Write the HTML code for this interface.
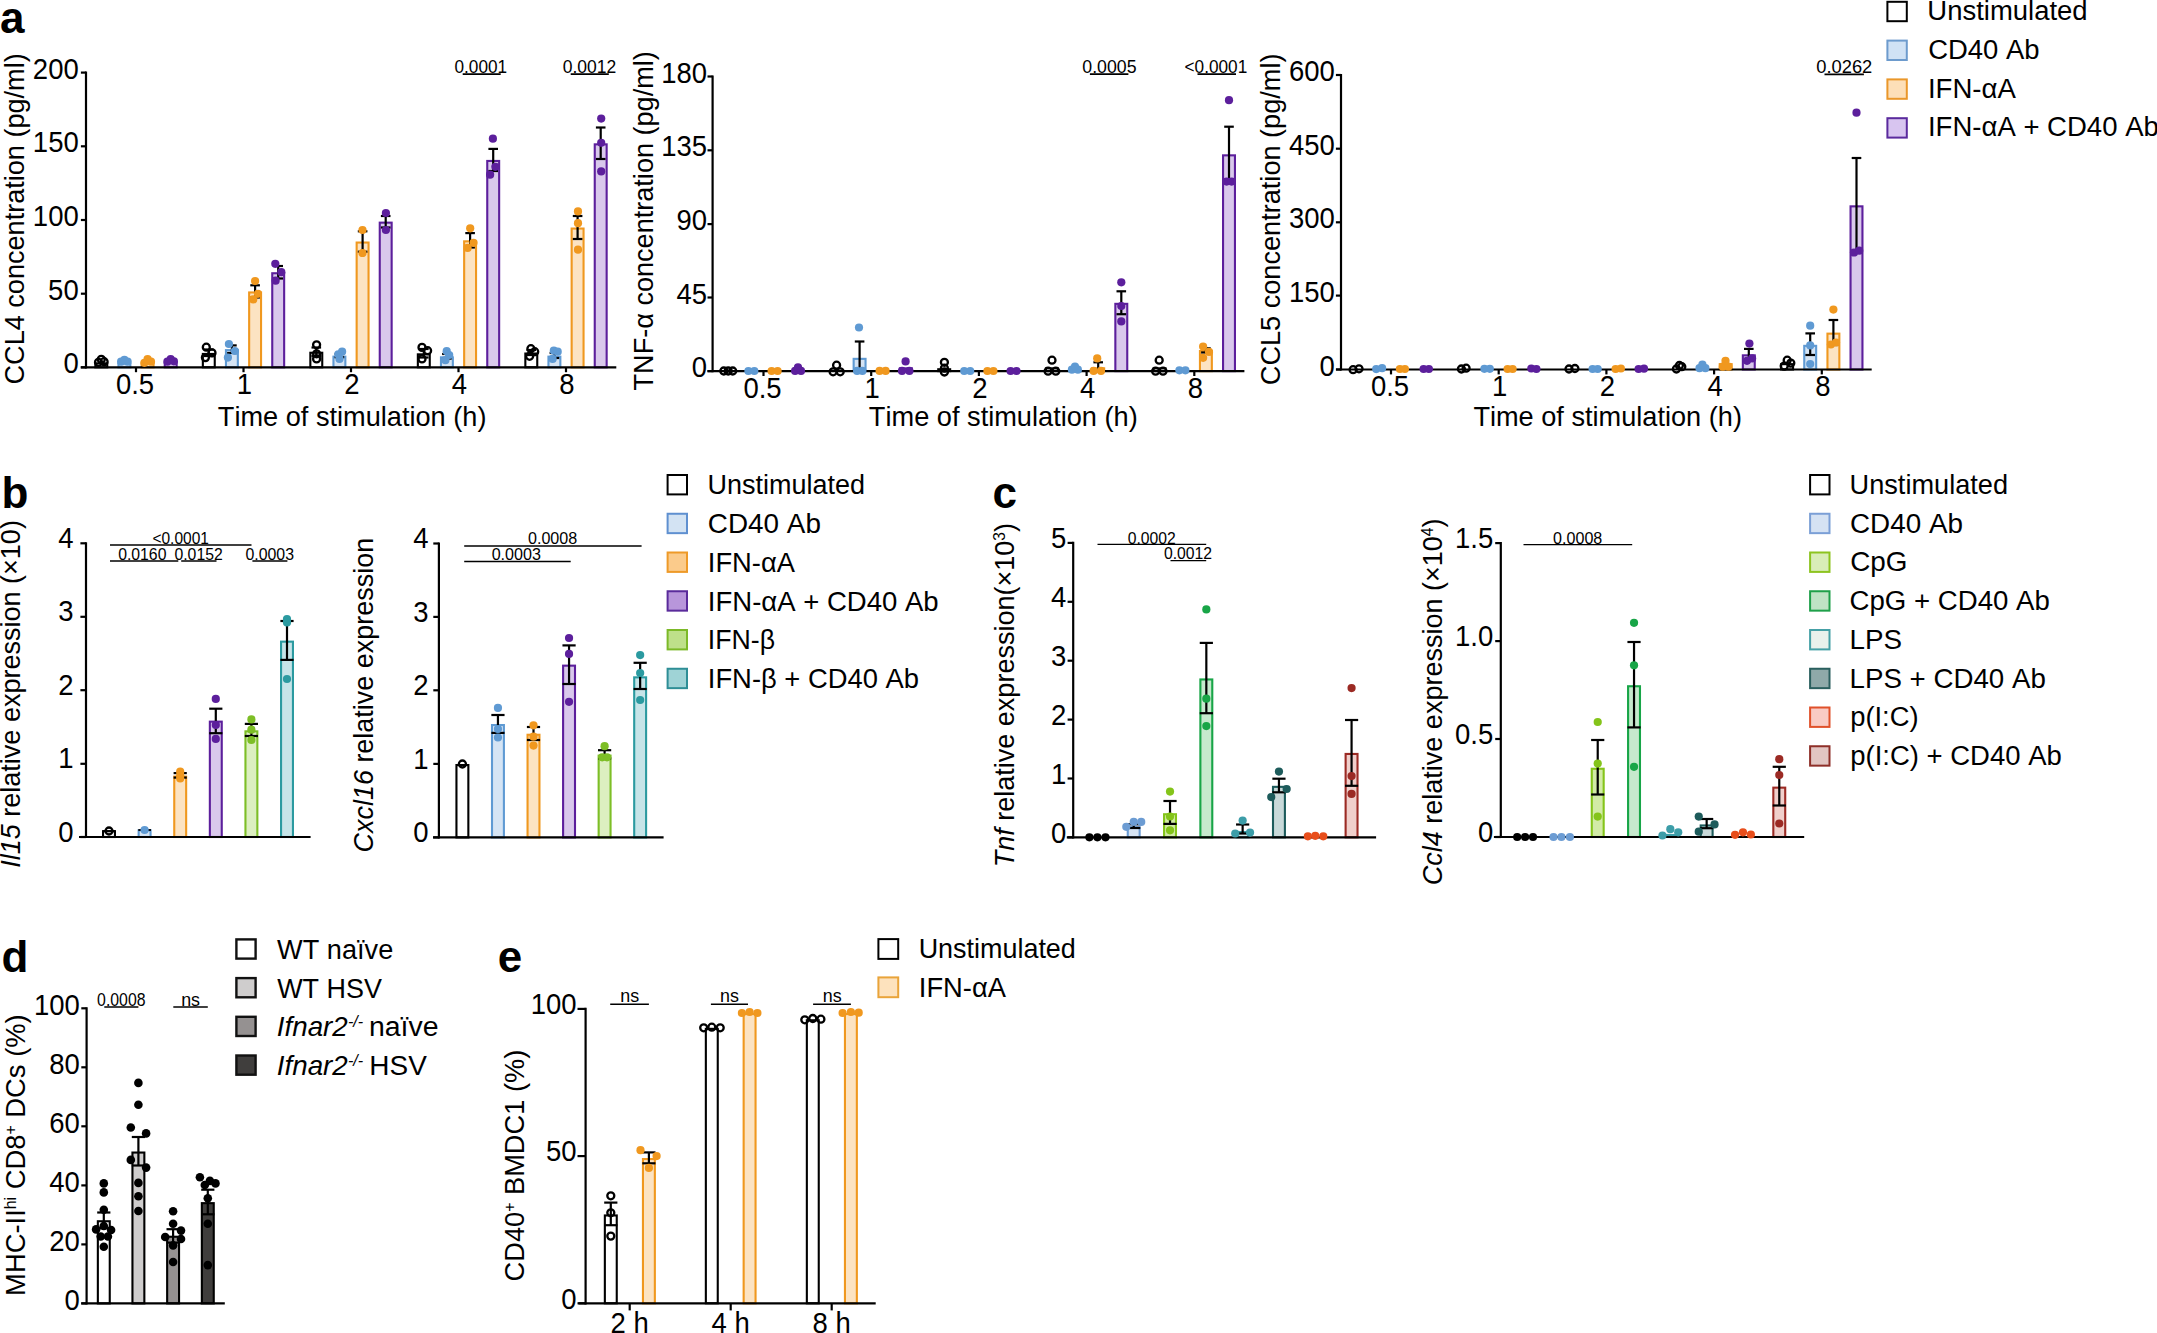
<!DOCTYPE html>
<html lang="en"><head><meta charset="utf-8"><title>Figure</title>
<style>
html,body{margin:0;padding:0;background:#fff;}
body{width:2157px;height:1333px;overflow:hidden;}
svg{display:block;font-family:"Liberation Sans", Arial, Helvetica, sans-serif;fill:#000;font-kerning:none;}
</style></head><body>
<svg width="2157" height="1333" viewBox="0 0 2157 1333">
<rect x="0" y="0" width="2157" height="1333" fill="#ffffff"/>
<rect x="95.35" y="363.35" width="11.9" height="3.95" fill="#ffffff" stroke="#000000" stroke-width="2.1"/>
<rect x="118.45" y="363.55" width="11.9" height="3.75" fill="#d5e4f4" stroke="#5f9ad3" stroke-width="2.1"/>
<rect x="141.65" y="363.55" width="11.9" height="3.75" fill="#fce3c2" stroke="#f0981f" stroke-width="2.1"/>
<rect x="164.75" y="362.85" width="11.9" height="4.45" fill="#d9c8ec" stroke="#5c1f9c" stroke-width="2.1"/>
<rect x="202.85" y="353.95" width="11.9" height="13.35" fill="#ffffff" stroke="#000000" stroke-width="2.1"/>
<rect x="225.95" y="350.15" width="11.9" height="17.15" fill="#d5e4f4" stroke="#5f9ad3" stroke-width="2.1"/>
<rect x="249.15" y="292.45" width="11.9" height="74.85" fill="#fce3c2" stroke="#f0981f" stroke-width="2.1"/>
<rect x="272.25" y="273.25" width="11.9" height="94.05" fill="#d9c8ec" stroke="#5c1f9c" stroke-width="2.1"/>
<rect x="310.35" y="352.75" width="11.9" height="14.55" fill="#ffffff" stroke="#000000" stroke-width="2.1"/>
<rect x="333.45" y="356.65" width="11.9" height="10.65" fill="#d5e4f4" stroke="#5f9ad3" stroke-width="2.1"/>
<rect x="356.65" y="242.55" width="11.9" height="124.75" fill="#fce3c2" stroke="#f0981f" stroke-width="2.1"/>
<rect x="379.75" y="222.65" width="11.9" height="144.65" fill="#d9c8ec" stroke="#5c1f9c" stroke-width="2.1"/>
<rect x="417.85" y="354.35" width="11.9" height="12.95" fill="#ffffff" stroke="#000000" stroke-width="2.1"/>
<rect x="440.95" y="357.35" width="11.9" height="9.95" fill="#d5e4f4" stroke="#5f9ad3" stroke-width="2.1"/>
<rect x="464.15" y="241.35" width="11.9" height="125.95" fill="#fce3c2" stroke="#f0981f" stroke-width="2.1"/>
<rect x="487.25" y="160.95" width="11.9" height="206.35" fill="#d9c8ec" stroke="#5c1f9c" stroke-width="2.1"/>
<rect x="525.35" y="353.55" width="11.9" height="13.75" fill="#ffffff" stroke="#000000" stroke-width="2.1"/>
<rect x="548.45" y="356.65" width="11.9" height="10.65" fill="#d5e4f4" stroke="#5f9ad3" stroke-width="2.1"/>
<rect x="571.65" y="228.55" width="11.9" height="138.75" fill="#fce3c2" stroke="#f0981f" stroke-width="2.1"/>
<rect x="594.75" y="144.35" width="11.9" height="222.95" fill="#d9c8ec" stroke="#5c1f9c" stroke-width="2.1"/>
<rect x="853.65" y="358.85" width="11.9" height="12.25" fill="#d5e4f4" stroke="#5f9ad3" stroke-width="2.1"/>
<rect x="899.95" y="368.35" width="11.9" height="2.75" fill="#d9c8ec" stroke="#5c1f9c" stroke-width="2.1"/>
<rect x="938.25" y="369.25" width="11.9" height="1.85" fill="#ffffff" stroke="#000000" stroke-width="2.1"/>
<rect x="1045.95" y="368.35" width="11.9" height="2.75" fill="#ffffff" stroke="#000000" stroke-width="2.1"/>
<rect x="1092.25" y="368.35" width="11.9" height="2.75" fill="#fce3c2" stroke="#f0981f" stroke-width="2.1"/>
<rect x="1115.35" y="303.85" width="11.9" height="67.25" fill="#d9c8ec" stroke="#5c1f9c" stroke-width="2.1"/>
<rect x="1153.65" y="368.35" width="11.9" height="2.75" fill="#ffffff" stroke="#000000" stroke-width="2.1"/>
<rect x="1199.95" y="351.05" width="11.9" height="20.05" fill="#fce3c2" stroke="#f0981f" stroke-width="2.1"/>
<rect x="1223.05" y="155.35" width="11.9" height="215.75" fill="#d9c8ec" stroke="#5c1f9c" stroke-width="2.1"/>
<rect x="1719.75" y="364.15" width="11.9" height="5.35" fill="#fce3c2" stroke="#f0981f" stroke-width="2.1"/>
<rect x="1742.85" y="355.35" width="11.9" height="14.15" fill="#d9c8ec" stroke="#5c1f9c" stroke-width="2.1"/>
<rect x="1781.15" y="364.15" width="11.9" height="5.35" fill="#ffffff" stroke="#000000" stroke-width="2.1"/>
<rect x="1804.25" y="345.85" width="11.9" height="23.65" fill="#d5e4f4" stroke="#5f9ad3" stroke-width="2.1"/>
<rect x="1827.45" y="333.65" width="11.9" height="35.85" fill="#fce3c2" stroke="#f0981f" stroke-width="2.1"/>
<rect x="1850.55" y="206.35" width="11.9" height="163.15" fill="#d9c8ec" stroke="#5c1f9c" stroke-width="2.1"/>
<rect x="103.05" y="831.25" width="11.9" height="5.75" fill="#ffffff" stroke="#000000" stroke-width="2.1"/>
<rect x="138.65" y="830.25" width="11.9" height="6.75" fill="#d5e4f4" stroke="#5f9ad3" stroke-width="2.1"/>
<rect x="174.25" y="776.65" width="11.9" height="60.35" fill="#fce3c2" stroke="#f0981f" stroke-width="2.1"/>
<rect x="209.85" y="721.65" width="11.9" height="115.35" fill="#d9c8ec" stroke="#5c1f9c" stroke-width="2.1"/>
<rect x="245.45" y="731.35" width="11.9" height="105.65" fill="#dcefc0" stroke="#7dbe26" stroke-width="2.1"/>
<rect x="281.05" y="641.65" width="11.9" height="195.35" fill="#c6e4e8" stroke="#2b9aa0" stroke-width="2.1"/>
<rect x="456.45" y="765.05" width="11.9" height="72.35" fill="#ffffff" stroke="#000000" stroke-width="2.1"/>
<rect x="492" y="725.05" width="11.9" height="112.35" fill="#d5e4f4" stroke="#5f9ad3" stroke-width="2.1"/>
<rect x="527.55" y="734.75" width="11.9" height="102.65" fill="#fce3c2" stroke="#f0981f" stroke-width="2.1"/>
<rect x="563.1" y="665.65" width="11.9" height="171.75" fill="#d9c8ec" stroke="#5c1f9c" stroke-width="2.1"/>
<rect x="598.65" y="755.65" width="11.9" height="81.75" fill="#dcefc0" stroke="#7dbe26" stroke-width="2.1"/>
<rect x="634.2" y="677.35" width="11.9" height="160.05" fill="#c6e4e8" stroke="#2b9aa0" stroke-width="2.1"/>
<rect x="1127.76" y="827.15" width="11.9" height="10.15" fill="#d5e4f5" stroke="#6c9cd3" stroke-width="2.1"/>
<rect x="1164.07" y="814.25" width="11.9" height="23.05" fill="#d2eba6" stroke="#84c41a" stroke-width="2.1"/>
<rect x="1200.38" y="679.45" width="11.9" height="157.85" fill="#c6e9cd" stroke="#18a547" stroke-width="2.1"/>
<rect x="1236.69" y="832.05" width="11.9" height="5.25" fill="#d4ecee" stroke="#3c9da8" stroke-width="2.1"/>
<rect x="1273" y="786.85" width="11.9" height="50.45" fill="#c8d9d9" stroke="#1d5b5b" stroke-width="2.1"/>
<rect x="1345.62" y="753.95" width="11.9" height="83.35" fill="#f0cfcb" stroke="#9b2a24" stroke-width="2.1"/>
<rect x="1591.77" y="768.75" width="11.9" height="68.25" fill="#d2eba6" stroke="#84c41a" stroke-width="2.1"/>
<rect x="1628.08" y="686.25" width="11.9" height="150.75" fill="#c6e9cd" stroke="#18a547" stroke-width="2.1"/>
<rect x="1664.39" y="834.95" width="11.9" height="2.05" fill="#d4ecee" stroke="#3c9da8" stroke-width="2.1"/>
<rect x="1700.7" y="825.45" width="11.9" height="11.55" fill="#c8d9d9" stroke="#1d5b5b" stroke-width="2.1"/>
<rect x="1773.32" y="787.65" width="11.9" height="49.35" fill="#f0cfcb" stroke="#9b2a24" stroke-width="2.1"/>
<rect x="97.85" y="1221.25" width="11.9" height="82.15" fill="#fff" stroke="#000" stroke-width="2.1"/>
<rect x="132.45" y="1152.55" width="11.9" height="150.85" fill="#cfcdcd" stroke="#000" stroke-width="2.1"/>
<rect x="167.15" y="1236.75" width="11.9" height="66.65" fill="#959191" stroke="#000" stroke-width="2.1"/>
<rect x="201.85" y="1203.15" width="11.9" height="100.25" fill="#403e3d" stroke="#000" stroke-width="2.1"/>
<rect x="604.85" y="1215.45" width="11.9" height="87.85" fill="#ffffff" stroke="#000000" stroke-width="2.1"/>
<rect x="642.95" y="1159.05" width="11.9" height="144.25" fill="#fce3c2" stroke="#f0981f" stroke-width="2.1"/>
<rect x="705.85" y="1028.85" width="11.9" height="274.45" fill="#ffffff" stroke="#000000" stroke-width="2.1"/>
<rect x="743.65" y="1014.05" width="11.9" height="289.25" fill="#fce3c2" stroke="#f0981f" stroke-width="2.1"/>
<rect x="806.85" y="1020.25" width="11.9" height="283.05" fill="#ffffff" stroke="#000000" stroke-width="2.1"/>
<rect x="844.95" y="1014.05" width="11.9" height="289.25" fill="#fce3c2" stroke="#f0981f" stroke-width="2.1"/>
<line x1="80.7" y1="367.3" x2="616.3" y2="367.3" stroke="#000" stroke-width="2.2" stroke-linecap="butt"/>
<line x1="136" y1="367.3" x2="136" y2="372.2" stroke="#000" stroke-width="2.2" stroke-linecap="butt"/>
<line x1="243.5" y1="367.3" x2="243.5" y2="372.2" stroke="#000" stroke-width="2.2" stroke-linecap="butt"/>
<line x1="351" y1="367.3" x2="351" y2="372.2" stroke="#000" stroke-width="2.2" stroke-linecap="butt"/>
<line x1="458.5" y1="367.3" x2="458.5" y2="372.2" stroke="#000" stroke-width="2.2" stroke-linecap="butt"/>
<line x1="566" y1="367.3" x2="566" y2="372.2" stroke="#000" stroke-width="2.2" stroke-linecap="butt"/>
<line x1="86" y1="71.5" x2="86" y2="368.4" stroke="#000" stroke-width="2.2" stroke-linecap="butt"/>
<line x1="80.9" y1="72.6" x2="86" y2="72.6" stroke="#000" stroke-width="2.2" stroke-linecap="butt"/>
<line x1="80.9" y1="146.3" x2="86" y2="146.3" stroke="#000" stroke-width="2.2" stroke-linecap="butt"/>
<line x1="80.9" y1="220" x2="86" y2="220" stroke="#000" stroke-width="2.2" stroke-linecap="butt"/>
<line x1="80.9" y1="293.7" x2="86" y2="293.7" stroke="#000" stroke-width="2.2" stroke-linecap="butt"/>
<line x1="80.9" y1="367.3" x2="86" y2="367.3" stroke="#000" stroke-width="2.2" stroke-linecap="butt"/>
<line x1="707.5" y1="371.1" x2="1244.4" y2="371.1" stroke="#000" stroke-width="2.2" stroke-linecap="butt"/>
<line x1="763.5" y1="371.1" x2="763.5" y2="376" stroke="#000" stroke-width="2.2" stroke-linecap="butt"/>
<line x1="871.2" y1="371.1" x2="871.2" y2="376" stroke="#000" stroke-width="2.2" stroke-linecap="butt"/>
<line x1="978.9" y1="371.1" x2="978.9" y2="376" stroke="#000" stroke-width="2.2" stroke-linecap="butt"/>
<line x1="1086.6" y1="371.1" x2="1086.6" y2="376" stroke="#000" stroke-width="2.2" stroke-linecap="butt"/>
<line x1="1194.3" y1="371.1" x2="1194.3" y2="376" stroke="#000" stroke-width="2.2" stroke-linecap="butt"/>
<line x1="712.6" y1="75.4" x2="712.6" y2="372.2" stroke="#000" stroke-width="2.2" stroke-linecap="butt"/>
<line x1="707.5" y1="76.5" x2="712.6" y2="76.5" stroke="#000" stroke-width="2.2" stroke-linecap="butt"/>
<line x1="707.5" y1="150.3" x2="712.6" y2="150.3" stroke="#000" stroke-width="2.2" stroke-linecap="butt"/>
<line x1="707.5" y1="224.1" x2="712.6" y2="224.1" stroke="#000" stroke-width="2.2" stroke-linecap="butt"/>
<line x1="707.5" y1="297.5" x2="712.6" y2="297.5" stroke="#000" stroke-width="2.2" stroke-linecap="butt"/>
<line x1="707.5" y1="371.1" x2="712.6" y2="371.1" stroke="#000" stroke-width="2.2" stroke-linecap="butt"/>
<line x1="1336" y1="369.5" x2="1871.7" y2="369.5" stroke="#000" stroke-width="2.2" stroke-linecap="butt"/>
<line x1="1391" y1="369.5" x2="1391" y2="374.4" stroke="#000" stroke-width="2.2" stroke-linecap="butt"/>
<line x1="1498.7" y1="369.5" x2="1498.7" y2="374.4" stroke="#000" stroke-width="2.2" stroke-linecap="butt"/>
<line x1="1606.4" y1="369.5" x2="1606.4" y2="374.4" stroke="#000" stroke-width="2.2" stroke-linecap="butt"/>
<line x1="1714.1" y1="369.5" x2="1714.1" y2="374.4" stroke="#000" stroke-width="2.2" stroke-linecap="butt"/>
<line x1="1821.8" y1="369.5" x2="1821.8" y2="374.4" stroke="#000" stroke-width="2.2" stroke-linecap="butt"/>
<line x1="1341" y1="73.9" x2="1341" y2="370.6" stroke="#000" stroke-width="2.2" stroke-linecap="butt"/>
<line x1="1335.9" y1="75" x2="1341" y2="75" stroke="#000" stroke-width="2.2" stroke-linecap="butt"/>
<line x1="1335.9" y1="148.7" x2="1341" y2="148.7" stroke="#000" stroke-width="2.2" stroke-linecap="butt"/>
<line x1="1335.9" y1="222.3" x2="1341" y2="222.3" stroke="#000" stroke-width="2.2" stroke-linecap="butt"/>
<line x1="1335.9" y1="295.6" x2="1341" y2="295.6" stroke="#000" stroke-width="2.2" stroke-linecap="butt"/>
<line x1="1335.9" y1="369.5" x2="1341" y2="369.5" stroke="#000" stroke-width="2.2" stroke-linecap="butt"/>
<line x1="79" y1="837" x2="310.6" y2="837" stroke="#000" stroke-width="2.2" stroke-linecap="butt"/>
<line x1="86" y1="542.2" x2="86" y2="838.1" stroke="#000" stroke-width="2.2" stroke-linecap="butt"/>
<line x1="80.4" y1="543.3" x2="86" y2="543.3" stroke="#000" stroke-width="2.2" stroke-linecap="butt"/>
<line x1="80.4" y1="616.8" x2="86" y2="616.8" stroke="#000" stroke-width="2.2" stroke-linecap="butt"/>
<line x1="80.4" y1="690.2" x2="86" y2="690.2" stroke="#000" stroke-width="2.2" stroke-linecap="butt"/>
<line x1="80.4" y1="763.8" x2="86" y2="763.8" stroke="#000" stroke-width="2.2" stroke-linecap="butt"/>
<line x1="80.4" y1="837" x2="86" y2="837" stroke="#000" stroke-width="2.2" stroke-linecap="butt"/>
<line x1="433" y1="837.4" x2="663.6" y2="837.4" stroke="#000" stroke-width="2.2" stroke-linecap="butt"/>
<line x1="438.9" y1="542.4" x2="438.9" y2="838.5" stroke="#000" stroke-width="2.2" stroke-linecap="butt"/>
<line x1="433.3" y1="543.5" x2="438.9" y2="543.5" stroke="#000" stroke-width="2.2" stroke-linecap="butt"/>
<line x1="433.3" y1="616.9" x2="438.9" y2="616.9" stroke="#000" stroke-width="2.2" stroke-linecap="butt"/>
<line x1="433.3" y1="690.3" x2="438.9" y2="690.3" stroke="#000" stroke-width="2.2" stroke-linecap="butt"/>
<line x1="433.3" y1="763.9" x2="438.9" y2="763.9" stroke="#000" stroke-width="2.2" stroke-linecap="butt"/>
<line x1="433.3" y1="837.4" x2="438.9" y2="837.4" stroke="#000" stroke-width="2.2" stroke-linecap="butt"/>
<line x1="1066.8" y1="837.3" x2="1376.1" y2="837.3" stroke="#000" stroke-width="2.2" stroke-linecap="butt"/>
<line x1="1073.2" y1="541.8" x2="1073.2" y2="838.4" stroke="#000" stroke-width="2.2" stroke-linecap="butt"/>
<line x1="1067.6" y1="542.9" x2="1073.2" y2="542.9" stroke="#000" stroke-width="2.2" stroke-linecap="butt"/>
<line x1="1067.6" y1="601.8" x2="1073.2" y2="601.8" stroke="#000" stroke-width="2.2" stroke-linecap="butt"/>
<line x1="1067.6" y1="660.7" x2="1073.2" y2="660.7" stroke="#000" stroke-width="2.2" stroke-linecap="butt"/>
<line x1="1067.6" y1="719.6" x2="1073.2" y2="719.6" stroke="#000" stroke-width="2.2" stroke-linecap="butt"/>
<line x1="1067.6" y1="778.5" x2="1073.2" y2="778.5" stroke="#000" stroke-width="2.2" stroke-linecap="butt"/>
<line x1="1067.6" y1="837.3" x2="1073.2" y2="837.3" stroke="#000" stroke-width="2.2" stroke-linecap="butt"/>
<line x1="1493.9" y1="837" x2="1804.2" y2="837" stroke="#000" stroke-width="2.2" stroke-linecap="butt"/>
<line x1="1500.8" y1="542" x2="1500.8" y2="838.1" stroke="#000" stroke-width="2.2" stroke-linecap="butt"/>
<line x1="1495.2" y1="543.1" x2="1500.8" y2="543.1" stroke="#000" stroke-width="2.2" stroke-linecap="butt"/>
<line x1="1495.2" y1="641.1" x2="1500.8" y2="641.1" stroke="#000" stroke-width="2.2" stroke-linecap="butt"/>
<line x1="1495.2" y1="739" x2="1500.8" y2="739" stroke="#000" stroke-width="2.2" stroke-linecap="butt"/>
<line x1="1495.2" y1="837" x2="1500.8" y2="837" stroke="#000" stroke-width="2.2" stroke-linecap="butt"/>
<line x1="81.2" y1="1303.4" x2="224.8" y2="1303.4" stroke="#000" stroke-width="2.2" stroke-linecap="butt"/>
<line x1="86.6" y1="1007.2" x2="86.6" y2="1304.5" stroke="#000" stroke-width="2.2" stroke-linecap="butt"/>
<line x1="81.3" y1="1008.3" x2="86.6" y2="1008.3" stroke="#000" stroke-width="2.2" stroke-linecap="butt"/>
<line x1="81.3" y1="1067.3" x2="86.6" y2="1067.3" stroke="#000" stroke-width="2.2" stroke-linecap="butt"/>
<line x1="81.3" y1="1126.3" x2="86.6" y2="1126.3" stroke="#000" stroke-width="2.2" stroke-linecap="butt"/>
<line x1="81.3" y1="1185.4" x2="86.6" y2="1185.4" stroke="#000" stroke-width="2.2" stroke-linecap="butt"/>
<line x1="81.3" y1="1244.4" x2="86.6" y2="1244.4" stroke="#000" stroke-width="2.2" stroke-linecap="butt"/>
<line x1="81.3" y1="1303.4" x2="86.6" y2="1303.4" stroke="#000" stroke-width="2.2" stroke-linecap="butt"/>
<line x1="578.5" y1="1303.3" x2="875.7" y2="1303.3" stroke="#000" stroke-width="2.2" stroke-linecap="butt"/>
<line x1="629.7" y1="1303.3" x2="629.7" y2="1310.4" stroke="#000" stroke-width="2.2" stroke-linecap="butt"/>
<line x1="730.7" y1="1303.3" x2="730.7" y2="1310.4" stroke="#000" stroke-width="2.2" stroke-linecap="butt"/>
<line x1="831.7" y1="1303.3" x2="831.7" y2="1310.4" stroke="#000" stroke-width="2.2" stroke-linecap="butt"/>
<line x1="585.6" y1="1007.8" x2="585.6" y2="1304.4" stroke="#000" stroke-width="2.2" stroke-linecap="butt"/>
<line x1="577.5" y1="1008.9" x2="585.6" y2="1008.9" stroke="#000" stroke-width="2.2" stroke-linecap="butt"/>
<line x1="577.5" y1="1156.1" x2="585.6" y2="1156.1" stroke="#000" stroke-width="2.2" stroke-linecap="butt"/>
<line x1="577.5" y1="1303.3" x2="585.6" y2="1303.3" stroke="#000" stroke-width="2.2" stroke-linecap="butt"/>
<line x1="208.8" y1="349.5" x2="208.8" y2="356" stroke="#000" stroke-width="2.2" stroke-linecap="butt"/>
<line x1="204" y1="349.5" x2="213.6" y2="349.5" stroke="#000" stroke-width="2.2" stroke-linecap="butt"/>
<line x1="204" y1="356" x2="213.6" y2="356" stroke="#000" stroke-width="2.2" stroke-linecap="butt"/>
<line x1="231.9" y1="345.4" x2="231.9" y2="353" stroke="#000" stroke-width="2.2" stroke-linecap="butt"/>
<line x1="227.1" y1="345.4" x2="236.7" y2="345.4" stroke="#000" stroke-width="2.2" stroke-linecap="butt"/>
<line x1="227.1" y1="353" x2="236.7" y2="353" stroke="#000" stroke-width="2.2" stroke-linecap="butt"/>
<line x1="255.1" y1="285.3" x2="255.1" y2="297.5" stroke="#000" stroke-width="2.2" stroke-linecap="butt"/>
<line x1="250.3" y1="285.3" x2="259.9" y2="285.3" stroke="#000" stroke-width="2.2" stroke-linecap="butt"/>
<line x1="250.3" y1="297.5" x2="259.9" y2="297.5" stroke="#000" stroke-width="2.2" stroke-linecap="butt"/>
<line x1="278.2" y1="266" x2="278.2" y2="278.5" stroke="#000" stroke-width="2.2" stroke-linecap="butt"/>
<line x1="273.4" y1="266" x2="283" y2="266" stroke="#000" stroke-width="2.2" stroke-linecap="butt"/>
<line x1="273.4" y1="278.5" x2="283" y2="278.5" stroke="#000" stroke-width="2.2" stroke-linecap="butt"/>
<line x1="316.3" y1="347.5" x2="316.3" y2="356" stroke="#000" stroke-width="2.2" stroke-linecap="butt"/>
<line x1="311.5" y1="347.5" x2="321.1" y2="347.5" stroke="#000" stroke-width="2.2" stroke-linecap="butt"/>
<line x1="311.5" y1="356" x2="321.1" y2="356" stroke="#000" stroke-width="2.2" stroke-linecap="butt"/>
<line x1="339.4" y1="354" x2="339.4" y2="357.3" stroke="#000" stroke-width="2.2" stroke-linecap="butt"/>
<line x1="334.6" y1="354" x2="344.2" y2="354" stroke="#000" stroke-width="2.2" stroke-linecap="butt"/>
<line x1="334.6" y1="357.3" x2="344.2" y2="357.3" stroke="#000" stroke-width="2.2" stroke-linecap="butt"/>
<line x1="362.6" y1="231.3" x2="362.6" y2="251.7" stroke="#000" stroke-width="2.2" stroke-linecap="butt"/>
<line x1="357.8" y1="231.3" x2="367.4" y2="231.3" stroke="#000" stroke-width="2.2" stroke-linecap="butt"/>
<line x1="357.8" y1="251.7" x2="367.4" y2="251.7" stroke="#000" stroke-width="2.2" stroke-linecap="butt"/>
<line x1="385.7" y1="216" x2="385.7" y2="227.5" stroke="#000" stroke-width="2.2" stroke-linecap="butt"/>
<line x1="380.9" y1="216" x2="390.5" y2="216" stroke="#000" stroke-width="2.2" stroke-linecap="butt"/>
<line x1="380.9" y1="227.5" x2="390.5" y2="227.5" stroke="#000" stroke-width="2.2" stroke-linecap="butt"/>
<line x1="423.8" y1="349" x2="423.8" y2="357.5" stroke="#000" stroke-width="2.2" stroke-linecap="butt"/>
<line x1="419" y1="349" x2="428.6" y2="349" stroke="#000" stroke-width="2.2" stroke-linecap="butt"/>
<line x1="419" y1="357.5" x2="428.6" y2="357.5" stroke="#000" stroke-width="2.2" stroke-linecap="butt"/>
<line x1="446.9" y1="354" x2="446.9" y2="358.6" stroke="#000" stroke-width="2.2" stroke-linecap="butt"/>
<line x1="442.1" y1="354" x2="451.7" y2="354" stroke="#000" stroke-width="2.2" stroke-linecap="butt"/>
<line x1="442.1" y1="358.6" x2="451.7" y2="358.6" stroke="#000" stroke-width="2.2" stroke-linecap="butt"/>
<line x1="470.1" y1="233.1" x2="470.1" y2="247.5" stroke="#000" stroke-width="2.2" stroke-linecap="butt"/>
<line x1="465.3" y1="233.1" x2="474.9" y2="233.1" stroke="#000" stroke-width="2.2" stroke-linecap="butt"/>
<line x1="465.3" y1="247.5" x2="474.9" y2="247.5" stroke="#000" stroke-width="2.2" stroke-linecap="butt"/>
<line x1="493.2" y1="148.9" x2="493.2" y2="171" stroke="#000" stroke-width="2.2" stroke-linecap="butt"/>
<line x1="488.4" y1="148.9" x2="498" y2="148.9" stroke="#000" stroke-width="2.2" stroke-linecap="butt"/>
<line x1="488.4" y1="171" x2="498" y2="171" stroke="#000" stroke-width="2.2" stroke-linecap="butt"/>
<line x1="531.3" y1="350" x2="531.3" y2="355" stroke="#000" stroke-width="2.2" stroke-linecap="butt"/>
<line x1="526.5" y1="350" x2="536.1" y2="350" stroke="#000" stroke-width="2.2" stroke-linecap="butt"/>
<line x1="526.5" y1="355" x2="536.1" y2="355" stroke="#000" stroke-width="2.2" stroke-linecap="butt"/>
<line x1="554.4" y1="353" x2="554.4" y2="358" stroke="#000" stroke-width="2.2" stroke-linecap="butt"/>
<line x1="549.6" y1="353" x2="559.2" y2="353" stroke="#000" stroke-width="2.2" stroke-linecap="butt"/>
<line x1="549.6" y1="358" x2="559.2" y2="358" stroke="#000" stroke-width="2.2" stroke-linecap="butt"/>
<line x1="577.6" y1="216" x2="577.6" y2="239" stroke="#000" stroke-width="2.2" stroke-linecap="butt"/>
<line x1="572.8" y1="216" x2="582.4" y2="216" stroke="#000" stroke-width="2.2" stroke-linecap="butt"/>
<line x1="572.8" y1="239" x2="582.4" y2="239" stroke="#000" stroke-width="2.2" stroke-linecap="butt"/>
<line x1="600.7" y1="127.5" x2="600.7" y2="159" stroke="#000" stroke-width="2.2" stroke-linecap="butt"/>
<line x1="595.9" y1="127.5" x2="605.5" y2="127.5" stroke="#000" stroke-width="2.2" stroke-linecap="butt"/>
<line x1="595.9" y1="159" x2="605.5" y2="159" stroke="#000" stroke-width="2.2" stroke-linecap="butt"/>
<line x1="859.6" y1="341.5" x2="859.6" y2="371" stroke="#000" stroke-width="2.2" stroke-linecap="butt"/>
<line x1="854.8" y1="341.5" x2="864.4" y2="341.5" stroke="#000" stroke-width="2.2" stroke-linecap="butt"/>
<line x1="854.8" y1="371" x2="864.4" y2="371" stroke="#000" stroke-width="2.2" stroke-linecap="butt"/>
<line x1="1098.2" y1="362.3" x2="1098.2" y2="371" stroke="#000" stroke-width="2.2" stroke-linecap="butt"/>
<line x1="1093.4" y1="362.3" x2="1103" y2="362.3" stroke="#000" stroke-width="2.2" stroke-linecap="butt"/>
<line x1="1093.4" y1="371" x2="1103" y2="371" stroke="#000" stroke-width="2.2" stroke-linecap="butt"/>
<line x1="1121.3" y1="291.3" x2="1121.3" y2="314.2" stroke="#000" stroke-width="2.2" stroke-linecap="butt"/>
<line x1="1116.5" y1="291.3" x2="1126.1" y2="291.3" stroke="#000" stroke-width="2.2" stroke-linecap="butt"/>
<line x1="1116.5" y1="314.2" x2="1126.1" y2="314.2" stroke="#000" stroke-width="2.2" stroke-linecap="butt"/>
<line x1="1205.9" y1="348.3" x2="1205.9" y2="352.5" stroke="#000" stroke-width="2.2" stroke-linecap="butt"/>
<line x1="1201.1" y1="348.3" x2="1210.7" y2="348.3" stroke="#000" stroke-width="2.2" stroke-linecap="butt"/>
<line x1="1201.1" y1="352.5" x2="1210.7" y2="352.5" stroke="#000" stroke-width="2.2" stroke-linecap="butt"/>
<line x1="1229" y1="126.7" x2="1229" y2="182" stroke="#000" stroke-width="2.2" stroke-linecap="butt"/>
<line x1="1224.2" y1="126.7" x2="1233.8" y2="126.7" stroke="#000" stroke-width="2.2" stroke-linecap="butt"/>
<line x1="1224.2" y1="182" x2="1233.8" y2="182" stroke="#000" stroke-width="2.2" stroke-linecap="butt"/>
<line x1="1748.8" y1="348.9" x2="1748.8" y2="359.7" stroke="#000" stroke-width="2.2" stroke-linecap="butt"/>
<line x1="1744" y1="348.9" x2="1753.6" y2="348.9" stroke="#000" stroke-width="2.2" stroke-linecap="butt"/>
<line x1="1744" y1="359.7" x2="1753.6" y2="359.7" stroke="#000" stroke-width="2.2" stroke-linecap="butt"/>
<line x1="1810.2" y1="333.4" x2="1810.2" y2="355" stroke="#000" stroke-width="2.2" stroke-linecap="butt"/>
<line x1="1805.4" y1="333.4" x2="1815" y2="333.4" stroke="#000" stroke-width="2.2" stroke-linecap="butt"/>
<line x1="1805.4" y1="355" x2="1815" y2="355" stroke="#000" stroke-width="2.2" stroke-linecap="butt"/>
<line x1="1833.4" y1="320" x2="1833.4" y2="345" stroke="#000" stroke-width="2.2" stroke-linecap="butt"/>
<line x1="1828.6" y1="320" x2="1838.2" y2="320" stroke="#000" stroke-width="2.2" stroke-linecap="butt"/>
<line x1="1828.6" y1="345" x2="1838.2" y2="345" stroke="#000" stroke-width="2.2" stroke-linecap="butt"/>
<line x1="1856.5" y1="158" x2="1856.5" y2="252" stroke="#000" stroke-width="2.2" stroke-linecap="butt"/>
<line x1="1851.7" y1="158" x2="1861.3" y2="158" stroke="#000" stroke-width="2.2" stroke-linecap="butt"/>
<line x1="1851.7" y1="252" x2="1861.3" y2="252" stroke="#000" stroke-width="2.2" stroke-linecap="butt"/>
<line x1="180.2" y1="773.1" x2="180.2" y2="777.6" stroke="#000" stroke-width="2.2" stroke-linecap="butt"/>
<line x1="173.6" y1="773.1" x2="186.8" y2="773.1" stroke="#000" stroke-width="2.2" stroke-linecap="butt"/>
<line x1="173.6" y1="777.6" x2="186.8" y2="777.6" stroke="#000" stroke-width="2.2" stroke-linecap="butt"/>
<line x1="215.8" y1="708.7" x2="215.8" y2="733.2" stroke="#000" stroke-width="2.2" stroke-linecap="butt"/>
<line x1="209.2" y1="708.7" x2="222.4" y2="708.7" stroke="#000" stroke-width="2.2" stroke-linecap="butt"/>
<line x1="209.2" y1="733.2" x2="222.4" y2="733.2" stroke="#000" stroke-width="2.2" stroke-linecap="butt"/>
<line x1="251.4" y1="723.9" x2="251.4" y2="736" stroke="#000" stroke-width="2.2" stroke-linecap="butt"/>
<line x1="244.8" y1="723.9" x2="258" y2="723.9" stroke="#000" stroke-width="2.2" stroke-linecap="butt"/>
<line x1="244.8" y1="736" x2="258" y2="736" stroke="#000" stroke-width="2.2" stroke-linecap="butt"/>
<line x1="287" y1="621" x2="287" y2="659.9" stroke="#000" stroke-width="2.2" stroke-linecap="butt"/>
<line x1="280.4" y1="621" x2="293.6" y2="621" stroke="#000" stroke-width="2.2" stroke-linecap="butt"/>
<line x1="280.4" y1="659.9" x2="293.6" y2="659.9" stroke="#000" stroke-width="2.2" stroke-linecap="butt"/>
<line x1="102.5" y1="831" x2="115.5" y2="831" stroke="#000" stroke-width="1.8" stroke-linecap="butt"/>
<line x1="138.3" y1="830" x2="151" y2="830" stroke="#000" stroke-width="1.8" stroke-linecap="butt"/>
<line x1="497.95" y1="715" x2="497.95" y2="732.9" stroke="#000" stroke-width="2.2" stroke-linecap="butt"/>
<line x1="491.35" y1="715" x2="504.55" y2="715" stroke="#000" stroke-width="2.2" stroke-linecap="butt"/>
<line x1="491.35" y1="732.9" x2="504.55" y2="732.9" stroke="#000" stroke-width="2.2" stroke-linecap="butt"/>
<line x1="533.5" y1="727" x2="533.5" y2="740" stroke="#000" stroke-width="2.2" stroke-linecap="butt"/>
<line x1="526.9" y1="727" x2="540.1" y2="727" stroke="#000" stroke-width="2.2" stroke-linecap="butt"/>
<line x1="526.9" y1="740" x2="540.1" y2="740" stroke="#000" stroke-width="2.2" stroke-linecap="butt"/>
<line x1="569.05" y1="645.4" x2="569.05" y2="684" stroke="#000" stroke-width="2.2" stroke-linecap="butt"/>
<line x1="562.45" y1="645.4" x2="575.65" y2="645.4" stroke="#000" stroke-width="2.2" stroke-linecap="butt"/>
<line x1="562.45" y1="684" x2="575.65" y2="684" stroke="#000" stroke-width="2.2" stroke-linecap="butt"/>
<line x1="604.6" y1="750.2" x2="604.6" y2="758.4" stroke="#000" stroke-width="2.2" stroke-linecap="butt"/>
<line x1="598" y1="750.2" x2="611.2" y2="750.2" stroke="#000" stroke-width="2.2" stroke-linecap="butt"/>
<line x1="598" y1="758.4" x2="611.2" y2="758.4" stroke="#000" stroke-width="2.2" stroke-linecap="butt"/>
<line x1="640.15" y1="662.8" x2="640.15" y2="689" stroke="#000" stroke-width="2.2" stroke-linecap="butt"/>
<line x1="633.55" y1="662.8" x2="646.75" y2="662.8" stroke="#000" stroke-width="2.2" stroke-linecap="butt"/>
<line x1="633.55" y1="689" x2="646.75" y2="689" stroke="#000" stroke-width="2.2" stroke-linecap="butt"/>
<line x1="1133.71" y1="824.3" x2="1133.71" y2="828" stroke="#000" stroke-width="2.2" stroke-linecap="butt"/>
<line x1="1127.11" y1="824.3" x2="1140.31" y2="824.3" stroke="#000" stroke-width="2.2" stroke-linecap="butt"/>
<line x1="1127.11" y1="828" x2="1140.31" y2="828" stroke="#000" stroke-width="2.2" stroke-linecap="butt"/>
<line x1="1170.02" y1="801" x2="1170.02" y2="823.9" stroke="#000" stroke-width="2.2" stroke-linecap="butt"/>
<line x1="1163.42" y1="801" x2="1176.62" y2="801" stroke="#000" stroke-width="2.2" stroke-linecap="butt"/>
<line x1="1163.42" y1="823.9" x2="1176.62" y2="823.9" stroke="#000" stroke-width="2.2" stroke-linecap="butt"/>
<line x1="1206.33" y1="642.9" x2="1206.33" y2="713.2" stroke="#000" stroke-width="2.2" stroke-linecap="butt"/>
<line x1="1199.73" y1="642.9" x2="1212.93" y2="642.9" stroke="#000" stroke-width="2.2" stroke-linecap="butt"/>
<line x1="1199.73" y1="713.2" x2="1212.93" y2="713.2" stroke="#000" stroke-width="2.2" stroke-linecap="butt"/>
<line x1="1242.64" y1="824.5" x2="1242.64" y2="833.5" stroke="#000" stroke-width="2.2" stroke-linecap="butt"/>
<line x1="1236.04" y1="824.5" x2="1249.24" y2="824.5" stroke="#000" stroke-width="2.2" stroke-linecap="butt"/>
<line x1="1236.04" y1="833.5" x2="1249.24" y2="833.5" stroke="#000" stroke-width="2.2" stroke-linecap="butt"/>
<line x1="1278.95" y1="778.7" x2="1278.95" y2="792.3" stroke="#000" stroke-width="2.2" stroke-linecap="butt"/>
<line x1="1272.35" y1="778.7" x2="1285.55" y2="778.7" stroke="#000" stroke-width="2.2" stroke-linecap="butt"/>
<line x1="1272.35" y1="792.3" x2="1285.55" y2="792.3" stroke="#000" stroke-width="2.2" stroke-linecap="butt"/>
<line x1="1351.57" y1="720" x2="1351.57" y2="785.8" stroke="#000" stroke-width="2.2" stroke-linecap="butt"/>
<line x1="1344.97" y1="720" x2="1358.17" y2="720" stroke="#000" stroke-width="2.2" stroke-linecap="butt"/>
<line x1="1344.97" y1="785.8" x2="1358.17" y2="785.8" stroke="#000" stroke-width="2.2" stroke-linecap="butt"/>
<line x1="1597.72" y1="740" x2="1597.72" y2="794.5" stroke="#000" stroke-width="2.2" stroke-linecap="butt"/>
<line x1="1591.12" y1="740" x2="1604.32" y2="740" stroke="#000" stroke-width="2.2" stroke-linecap="butt"/>
<line x1="1591.12" y1="794.5" x2="1604.32" y2="794.5" stroke="#000" stroke-width="2.2" stroke-linecap="butt"/>
<line x1="1634.03" y1="642" x2="1634.03" y2="727.4" stroke="#000" stroke-width="2.2" stroke-linecap="butt"/>
<line x1="1627.43" y1="642" x2="1640.63" y2="642" stroke="#000" stroke-width="2.2" stroke-linecap="butt"/>
<line x1="1627.43" y1="727.4" x2="1640.63" y2="727.4" stroke="#000" stroke-width="2.2" stroke-linecap="butt"/>
<line x1="1706.65" y1="819" x2="1706.65" y2="828.2" stroke="#000" stroke-width="2.2" stroke-linecap="butt"/>
<line x1="1700.05" y1="819" x2="1713.25" y2="819" stroke="#000" stroke-width="2.2" stroke-linecap="butt"/>
<line x1="1700.05" y1="828.2" x2="1713.25" y2="828.2" stroke="#000" stroke-width="2.2" stroke-linecap="butt"/>
<line x1="1779.27" y1="766.8" x2="1779.27" y2="805.5" stroke="#000" stroke-width="2.2" stroke-linecap="butt"/>
<line x1="1772.67" y1="766.8" x2="1785.87" y2="766.8" stroke="#000" stroke-width="2.2" stroke-linecap="butt"/>
<line x1="1772.67" y1="805.5" x2="1785.87" y2="805.5" stroke="#000" stroke-width="2.2" stroke-linecap="butt"/>
<line x1="103.8" y1="1212.5" x2="103.8" y2="1228.3" stroke="#000" stroke-width="2.2" stroke-linecap="butt"/>
<line x1="97.2" y1="1212.5" x2="110.4" y2="1212.5" stroke="#000" stroke-width="2.2" stroke-linecap="butt"/>
<line x1="97.2" y1="1228.3" x2="110.4" y2="1228.3" stroke="#000" stroke-width="2.2" stroke-linecap="butt"/>
<line x1="138.4" y1="1137" x2="138.4" y2="1165.5" stroke="#000" stroke-width="2.2" stroke-linecap="butt"/>
<line x1="131.8" y1="1137" x2="145" y2="1137" stroke="#000" stroke-width="2.2" stroke-linecap="butt"/>
<line x1="131.8" y1="1165.5" x2="145" y2="1165.5" stroke="#000" stroke-width="2.2" stroke-linecap="butt"/>
<line x1="173.1" y1="1229.2" x2="173.1" y2="1242.6" stroke="#000" stroke-width="2.2" stroke-linecap="butt"/>
<line x1="166.5" y1="1229.2" x2="179.7" y2="1229.2" stroke="#000" stroke-width="2.2" stroke-linecap="butt"/>
<line x1="166.5" y1="1242.6" x2="179.7" y2="1242.6" stroke="#000" stroke-width="2.2" stroke-linecap="butt"/>
<line x1="207.8" y1="1189.7" x2="207.8" y2="1214.3" stroke="#000" stroke-width="2.2" stroke-linecap="butt"/>
<line x1="201.2" y1="1189.7" x2="214.4" y2="1189.7" stroke="#000" stroke-width="2.2" stroke-linecap="butt"/>
<line x1="201.2" y1="1214.3" x2="214.4" y2="1214.3" stroke="#000" stroke-width="2.2" stroke-linecap="butt"/>
<line x1="610.8" y1="1202.6" x2="610.8" y2="1225.2" stroke="#000" stroke-width="2.2" stroke-linecap="butt"/>
<line x1="604.2" y1="1202.6" x2="617.4" y2="1202.6" stroke="#000" stroke-width="2.2" stroke-linecap="butt"/>
<line x1="604.2" y1="1225.2" x2="617.4" y2="1225.2" stroke="#000" stroke-width="2.2" stroke-linecap="butt"/>
<line x1="648.9" y1="1152.4" x2="648.9" y2="1163.3" stroke="#000" stroke-width="2.2" stroke-linecap="butt"/>
<line x1="642.3" y1="1152.4" x2="655.5" y2="1152.4" stroke="#000" stroke-width="2.2" stroke-linecap="butt"/>
<line x1="642.3" y1="1163.3" x2="655.5" y2="1163.3" stroke="#000" stroke-width="2.2" stroke-linecap="butt"/>
<circle cx="98.5" cy="362.3" r="3.5" fill="none" stroke="#000000" stroke-width="2.3"/>
<circle cx="104.1" cy="361.7" r="3.5" fill="none" stroke="#000000" stroke-width="2.3"/>
<circle cx="101.3" cy="359.4" r="3.5" fill="none" stroke="#000000" stroke-width="2.3"/>
<circle cx="121.1" cy="361.7" r="4.1" fill="#5f9ad3"/>
<circle cx="127.6" cy="361.7" r="4.1" fill="#5f9ad3"/>
<circle cx="124.4" cy="359.8" r="4.1" fill="#5f9ad3"/>
<circle cx="144.4" cy="362.8" r="4.1" fill="#f0981f"/>
<circle cx="151" cy="361.7" r="4.1" fill="#f0981f"/>
<circle cx="147.6" cy="359" r="4.1" fill="#f0981f"/>
<circle cx="167.4" cy="361.7" r="4.1" fill="#5c1f9c"/>
<circle cx="173.9" cy="361.3" r="4.1" fill="#5c1f9c"/>
<circle cx="170.7" cy="359" r="4.1" fill="#5c1f9c"/>
<circle cx="206.3" cy="347.2" r="3.5" fill="none" stroke="#000000" stroke-width="2.3"/>
<circle cx="212" cy="352.9" r="3.5" fill="none" stroke="#000000" stroke-width="2.3"/>
<circle cx="205.4" cy="357.6" r="3.5" fill="none" stroke="#000000" stroke-width="2.3"/>
<circle cx="228.9" cy="344" r="4.1" fill="#5f9ad3"/>
<circle cx="234.9" cy="351" r="4.1" fill="#5f9ad3"/>
<circle cx="227.9" cy="357.6" r="4.1" fill="#5f9ad3"/>
<circle cx="255.1" cy="281" r="4.1" fill="#f0981f"/>
<circle cx="257.9" cy="293.8" r="4.1" fill="#f0981f"/>
<circle cx="253.2" cy="299.4" r="4.1" fill="#f0981f"/>
<circle cx="275.3" cy="263.8" r="4.1" fill="#5c1f9c"/>
<circle cx="281.3" cy="272.2" r="4.1" fill="#5c1f9c"/>
<circle cx="275.6" cy="280.7" r="4.1" fill="#5c1f9c"/>
<circle cx="316.6" cy="344.8" r="3.5" fill="none" stroke="#000000" stroke-width="2.3"/>
<circle cx="316.6" cy="353.8" r="3.5" fill="none" stroke="#000000" stroke-width="2.3"/>
<circle cx="316.6" cy="358.9" r="3.5" fill="none" stroke="#000000" stroke-width="2.3"/>
<circle cx="338.3" cy="354.3" r="4.1" fill="#5f9ad3"/>
<circle cx="342.1" cy="351.7" r="4.1" fill="#5f9ad3"/>
<circle cx="339.5" cy="358.9" r="4.1" fill="#5f9ad3"/>
<circle cx="362.5" cy="230" r="4.1" fill="#f0981f"/>
<circle cx="362.5" cy="253" r="4.1" fill="#f0981f"/>
<circle cx="385.9" cy="213" r="4.1" fill="#5c1f9c"/>
<circle cx="385.9" cy="230" r="4.1" fill="#5c1f9c"/>
<circle cx="422" cy="347.4" r="3.5" fill="none" stroke="#000000" stroke-width="2.3"/>
<circle cx="427.6" cy="350.7" r="3.5" fill="none" stroke="#000000" stroke-width="2.3"/>
<circle cx="422" cy="358.9" r="3.5" fill="none" stroke="#000000" stroke-width="2.3"/>
<circle cx="446.7" cy="351.2" r="4.1" fill="#5f9ad3"/>
<circle cx="449.2" cy="355" r="4.1" fill="#5f9ad3"/>
<circle cx="445.4" cy="360.2" r="4.1" fill="#5f9ad3"/>
<circle cx="470.2" cy="228.3" r="4.1" fill="#f0981f"/>
<circle cx="473.5" cy="242.8" r="4.1" fill="#f0981f"/>
<circle cx="467.6" cy="247.9" r="4.1" fill="#f0981f"/>
<circle cx="492.9" cy="138.7" r="4.1" fill="#5c1f9c"/>
<circle cx="495.4" cy="166.8" r="4.1" fill="#5c1f9c"/>
<circle cx="490.1" cy="174.7" r="4.1" fill="#5c1f9c"/>
<circle cx="530.9" cy="348.7" r="3.5" fill="none" stroke="#000000" stroke-width="2.3"/>
<circle cx="534.7" cy="351.7" r="3.5" fill="none" stroke="#000000" stroke-width="2.3"/>
<circle cx="529.6" cy="356.3" r="3.5" fill="none" stroke="#000000" stroke-width="2.3"/>
<circle cx="553.8" cy="350.7" r="4.1" fill="#5f9ad3"/>
<circle cx="557.7" cy="351.7" r="4.1" fill="#5f9ad3"/>
<circle cx="552.6" cy="358.9" r="4.1" fill="#5f9ad3"/>
<circle cx="578" cy="211.4" r="4.1" fill="#f0981f"/>
<circle cx="578" cy="223.2" r="4.1" fill="#f0981f"/>
<circle cx="578" cy="249.7" r="4.1" fill="#f0981f"/>
<circle cx="601.2" cy="118.6" r="4.1" fill="#5c1f9c"/>
<circle cx="601.2" cy="142.8" r="4.1" fill="#5c1f9c"/>
<circle cx="601.2" cy="171.4" r="4.1" fill="#5c1f9c"/>
<circle cx="723.8" cy="371" r="3.5" fill="none" stroke="#000000" stroke-width="2.3"/>
<circle cx="728.2" cy="371" r="3.5" fill="none" stroke="#000000" stroke-width="2.3"/>
<circle cx="732.7" cy="371" r="3.5" fill="none" stroke="#000000" stroke-width="2.3"/>
<circle cx="748.4" cy="371" r="4.1" fill="#5f9ad3"/>
<circle cx="754.3" cy="371" r="4.1" fill="#5f9ad3"/>
<circle cx="771.6" cy="371" r="4.1" fill="#f0981f"/>
<circle cx="777.6" cy="371" r="4.1" fill="#f0981f"/>
<circle cx="795.1" cy="370.9" r="4.1" fill="#5c1f9c"/>
<circle cx="801" cy="370.9" r="4.1" fill="#5c1f9c"/>
<circle cx="798" cy="367.3" r="4.1" fill="#5c1f9c"/>
<circle cx="836.6" cy="365.2" r="3.5" fill="none" stroke="#000000" stroke-width="2.3"/>
<circle cx="833.1" cy="371.8" r="3.5" fill="none" stroke="#000000" stroke-width="2.3"/>
<circle cx="840.2" cy="371.8" r="3.5" fill="none" stroke="#000000" stroke-width="2.3"/>
<circle cx="859" cy="327.5" r="4.1" fill="#5f9ad3"/>
<circle cx="857.1" cy="370.9" r="4.1" fill="#5f9ad3"/>
<circle cx="862.4" cy="370.9" r="4.1" fill="#5f9ad3"/>
<circle cx="879.6" cy="370.9" r="4.1" fill="#f0981f"/>
<circle cx="885.6" cy="370.9" r="4.1" fill="#f0981f"/>
<circle cx="905.6" cy="361.4" r="4.1" fill="#5c1f9c"/>
<circle cx="902" cy="370.9" r="4.1" fill="#5c1f9c"/>
<circle cx="909.4" cy="370.9" r="4.1" fill="#5c1f9c"/>
<circle cx="944.4" cy="362.3" r="3.5" fill="none" stroke="#000000" stroke-width="2.3"/>
<circle cx="944.4" cy="368.2" r="3.5" fill="none" stroke="#000000" stroke-width="2.3"/>
<circle cx="944.4" cy="372" r="3.5" fill="none" stroke="#000000" stroke-width="2.3"/>
<circle cx="964.2" cy="371" r="4.1" fill="#5f9ad3"/>
<circle cx="970.2" cy="371" r="4.1" fill="#5f9ad3"/>
<circle cx="987.4" cy="371" r="4.1" fill="#f0981f"/>
<circle cx="993.4" cy="371" r="4.1" fill="#f0981f"/>
<circle cx="1010.6" cy="371" r="4.1" fill="#5c1f9c"/>
<circle cx="1016.5" cy="371" r="4.1" fill="#5c1f9c"/>
<circle cx="1052" cy="360.2" r="3.5" fill="none" stroke="#000000" stroke-width="2.3"/>
<circle cx="1048.1" cy="371.2" r="3.5" fill="none" stroke="#000000" stroke-width="2.3"/>
<circle cx="1055.8" cy="371.2" r="3.5" fill="none" stroke="#000000" stroke-width="2.3"/>
<circle cx="1071.9" cy="369.7" r="4.1" fill="#5f9ad3"/>
<circle cx="1077.9" cy="369.7" r="4.1" fill="#5f9ad3"/>
<circle cx="1075" cy="366.7" r="4.1" fill="#5f9ad3"/>
<circle cx="1097.2" cy="358.4" r="4.1" fill="#f0981f"/>
<circle cx="1093.6" cy="370.9" r="4.1" fill="#f0981f"/>
<circle cx="1101" cy="370.9" r="4.1" fill="#f0981f"/>
<circle cx="1121.3" cy="282.3" r="4.1" fill="#5c1f9c"/>
<circle cx="1121.3" cy="306" r="4.1" fill="#5c1f9c"/>
<circle cx="1121.3" cy="321.4" r="4.1" fill="#5c1f9c"/>
<circle cx="1159.2" cy="360.2" r="3.5" fill="none" stroke="#000000" stroke-width="2.3"/>
<circle cx="1155.6" cy="371.2" r="3.5" fill="none" stroke="#000000" stroke-width="2.3"/>
<circle cx="1163" cy="371.2" r="3.5" fill="none" stroke="#000000" stroke-width="2.3"/>
<circle cx="1179.4" cy="370.3" r="4.1" fill="#5f9ad3"/>
<circle cx="1185.4" cy="370.3" r="4.1" fill="#5f9ad3"/>
<circle cx="1203.1" cy="346.5" r="4.1" fill="#f0981f"/>
<circle cx="1209" cy="351.9" r="4.1" fill="#f0981f"/>
<circle cx="1203.1" cy="357.8" r="4.1" fill="#f0981f"/>
<circle cx="1229" cy="100.2" r="4.1" fill="#5c1f9c"/>
<circle cx="1226.6" cy="181.6" r="4.1" fill="#5c1f9c"/>
<circle cx="1231.6" cy="181.6" r="4.1" fill="#5c1f9c"/>
<circle cx="1353.1" cy="369.7" r="3.5" fill="none" stroke="#000000" stroke-width="2.3"/>
<circle cx="1359" cy="368.8" r="3.5" fill="none" stroke="#000000" stroke-width="2.3"/>
<circle cx="1376.2" cy="369.1" r="4.1" fill="#5f9ad3"/>
<circle cx="1382.1" cy="368.2" r="4.1" fill="#5f9ad3"/>
<circle cx="1399.9" cy="369" r="4.1" fill="#f0981f"/>
<circle cx="1404.9" cy="369" r="4.1" fill="#f0981f"/>
<circle cx="1423.6" cy="369" r="4.1" fill="#5c1f9c"/>
<circle cx="1428.9" cy="369" r="4.1" fill="#5c1f9c"/>
<circle cx="1461.4" cy="369" r="3.5" fill="none" stroke="#000000" stroke-width="2.3"/>
<circle cx="1466.1" cy="368.2" r="3.5" fill="none" stroke="#000000" stroke-width="2.3"/>
<circle cx="1484.4" cy="368.8" r="4.1" fill="#5f9ad3"/>
<circle cx="1489.8" cy="368.8" r="4.1" fill="#5f9ad3"/>
<circle cx="1507.6" cy="369" r="4.1" fill="#f0981f"/>
<circle cx="1512.6" cy="369" r="4.1" fill="#f0981f"/>
<circle cx="1531.3" cy="368.5" r="4.1" fill="#5c1f9c"/>
<circle cx="1536.4" cy="369" r="4.1" fill="#5c1f9c"/>
<circle cx="1569" cy="369" r="3.5" fill="none" stroke="#000000" stroke-width="2.3"/>
<circle cx="1574.9" cy="368.5" r="3.5" fill="none" stroke="#000000" stroke-width="2.3"/>
<circle cx="1592.6" cy="369" r="4.1" fill="#5f9ad3"/>
<circle cx="1597.7" cy="369" r="4.1" fill="#5f9ad3"/>
<circle cx="1615.6" cy="369" r="4.1" fill="#f0981f"/>
<circle cx="1620.9" cy="368.5" r="4.1" fill="#f0981f"/>
<circle cx="1638.6" cy="369" r="4.1" fill="#5c1f9c"/>
<circle cx="1644" cy="368.7" r="4.1" fill="#5c1f9c"/>
<circle cx="1676.4" cy="369" r="3.5" fill="none" stroke="#000000" stroke-width="2.3"/>
<circle cx="1681.8" cy="366.7" r="3.5" fill="none" stroke="#000000" stroke-width="2.3"/>
<circle cx="1679.4" cy="365.5" r="3.5" fill="none" stroke="#000000" stroke-width="2.3"/>
<circle cx="1699.5" cy="368.2" r="4.1" fill="#5f9ad3"/>
<circle cx="1705.4" cy="368.2" r="4.1" fill="#5f9ad3"/>
<circle cx="1702.4" cy="364.6" r="4.1" fill="#5f9ad3"/>
<circle cx="1722.8" cy="366.7" r="4.1" fill="#f0981f"/>
<circle cx="1728.4" cy="366.7" r="4.1" fill="#f0981f"/>
<circle cx="1725.5" cy="360.8" r="4.1" fill="#f0981f"/>
<circle cx="1749.4" cy="343.6" r="4.1" fill="#5c1f9c"/>
<circle cx="1747" cy="360.8" r="4.1" fill="#5c1f9c"/>
<circle cx="1752.1" cy="358.4" r="4.1" fill="#5c1f9c"/>
<circle cx="1787.2" cy="360.2" r="3.5" fill="none" stroke="#000000" stroke-width="2.3"/>
<circle cx="1790.8" cy="363.1" r="3.5" fill="none" stroke="#000000" stroke-width="2.3"/>
<circle cx="1784.2" cy="366.1" r="3.5" fill="none" stroke="#000000" stroke-width="2.3"/>
<circle cx="1810.2" cy="325.7" r="4.1" fill="#5f9ad3"/>
<circle cx="1810.2" cy="345.4" r="4.1" fill="#5f9ad3"/>
<circle cx="1810.2" cy="364" r="4.1" fill="#5f9ad3"/>
<circle cx="1833.4" cy="309.6" r="4.1" fill="#f0981f"/>
<circle cx="1830.9" cy="344.5" r="4.1" fill="#f0981f"/>
<circle cx="1836" cy="342.5" r="4.1" fill="#f0981f"/>
<circle cx="1856.5" cy="112.7" r="4.1" fill="#5c1f9c"/>
<circle cx="1854" cy="252.5" r="4.1" fill="#5c1f9c"/>
<circle cx="1859.2" cy="250.7" r="4.1" fill="#5c1f9c"/>
<circle cx="109" cy="831" r="3.5" fill="none" stroke="#000000" stroke-width="2.3"/>
<circle cx="144.6" cy="830" r="4.1" fill="#5f9ad3"/>
<circle cx="180.2" cy="771.7" r="4.1" fill="#f0981f"/>
<circle cx="180.2" cy="775.6" r="4.1" fill="#f0981f"/>
<circle cx="180.2" cy="778.5" r="4.1" fill="#f0981f"/>
<circle cx="215.8" cy="698.9" r="4.1" fill="#5c1f9c"/>
<circle cx="215.8" cy="724.9" r="4.1" fill="#5c1f9c"/>
<circle cx="215.8" cy="738.9" r="4.1" fill="#5c1f9c"/>
<circle cx="251.4" cy="719.4" r="4.1" fill="#7dbe26"/>
<circle cx="251.4" cy="729.7" r="4.1" fill="#7dbe26"/>
<circle cx="251.4" cy="740" r="4.1" fill="#7dbe26"/>
<circle cx="287" cy="619.1" r="4.1" fill="#2b9aa0"/>
<circle cx="287" cy="622.4" r="4.1" fill="#2b9aa0"/>
<circle cx="287" cy="679" r="4.1" fill="#2b9aa0"/>
<circle cx="462.4" cy="764" r="3.5" fill="none" stroke="#000000" stroke-width="2.3"/>
<circle cx="497.95" cy="707.9" r="4.1" fill="#5f9ad3"/>
<circle cx="497.95" cy="729" r="4.1" fill="#5f9ad3"/>
<circle cx="497.95" cy="737.5" r="4.1" fill="#5f9ad3"/>
<circle cx="533.5" cy="725.3" r="4.1" fill="#f0981f"/>
<circle cx="533.5" cy="736.7" r="4.1" fill="#f0981f"/>
<circle cx="533.5" cy="745.6" r="4.1" fill="#f0981f"/>
<circle cx="569.05" cy="638" r="4.1" fill="#5c1f9c"/>
<circle cx="569.05" cy="653.9" r="4.1" fill="#5c1f9c"/>
<circle cx="569.05" cy="701.8" r="4.1" fill="#5c1f9c"/>
<circle cx="604.6" cy="746.2" r="4.1" fill="#7dbe26"/>
<circle cx="602.2" cy="757.3" r="4.1" fill="#7dbe26"/>
<circle cx="607" cy="757.3" r="4.1" fill="#7dbe26"/>
<circle cx="640.15" cy="655.1" r="4.1" fill="#2b9aa0"/>
<circle cx="640.15" cy="673" r="4.1" fill="#2b9aa0"/>
<circle cx="640.15" cy="700" r="4.1" fill="#2b9aa0"/>
<circle cx="1089.4" cy="837.3" r="4.1" fill="#000000"/>
<circle cx="1097.4" cy="837.3" r="4.1" fill="#000000"/>
<circle cx="1105.5" cy="837.3" r="4.1" fill="#000000"/>
<circle cx="1126.31" cy="826.8" r="4.1" fill="#6c9cd3"/>
<circle cx="1133.71" cy="821.9" r="4.1" fill="#6c9cd3"/>
<circle cx="1141.21" cy="821.9" r="4.1" fill="#6c9cd3"/>
<circle cx="1170.02" cy="791.6" r="4.1" fill="#84c41a"/>
<circle cx="1170.02" cy="816.5" r="4.1" fill="#84c41a"/>
<circle cx="1170.02" cy="830.3" r="4.1" fill="#84c41a"/>
<circle cx="1206.33" cy="609.4" r="4.1" fill="#18a547"/>
<circle cx="1206.33" cy="698.7" r="4.1" fill="#18a547"/>
<circle cx="1206.33" cy="726.1" r="4.1" fill="#18a547"/>
<circle cx="1242.64" cy="820.6" r="4.1" fill="#3c9da8"/>
<circle cx="1235.24" cy="833.5" r="4.1" fill="#3c9da8"/>
<circle cx="1250.04" cy="832.6" r="4.1" fill="#3c9da8"/>
<circle cx="1278.95" cy="771.6" r="4.1" fill="#1d5b5b"/>
<circle cx="1271.25" cy="797.1" r="4.1" fill="#1d5b5b"/>
<circle cx="1286.65" cy="789" r="4.1" fill="#1d5b5b"/>
<circle cx="1307.86" cy="836.3" r="4.1" fill="#e84e1b"/>
<circle cx="1315.26" cy="835.8" r="4.1" fill="#e84e1b"/>
<circle cx="1323.26" cy="836.3" r="4.1" fill="#e84e1b"/>
<circle cx="1351.57" cy="688.1" r="4.1" fill="#9b2a24"/>
<circle cx="1351.57" cy="776.1" r="4.1" fill="#9b2a24"/>
<circle cx="1351.57" cy="793.9" r="4.1" fill="#9b2a24"/>
<circle cx="1517.2" cy="837" r="4.1" fill="#000000"/>
<circle cx="1525.1" cy="837" r="4.1" fill="#000000"/>
<circle cx="1533" cy="837" r="4.1" fill="#000000"/>
<circle cx="1553.51" cy="837" r="4.1" fill="#6c9cd3"/>
<circle cx="1561.41" cy="837" r="4.1" fill="#6c9cd3"/>
<circle cx="1569.91" cy="837" r="4.1" fill="#6c9cd3"/>
<circle cx="1597.72" cy="722" r="4.1" fill="#84c41a"/>
<circle cx="1597.72" cy="763.6" r="4.1" fill="#84c41a"/>
<circle cx="1597.72" cy="816.6" r="4.1" fill="#84c41a"/>
<circle cx="1634.03" cy="622.8" r="4.1" fill="#18a547"/>
<circle cx="1634.03" cy="665.3" r="4.1" fill="#18a547"/>
<circle cx="1634.03" cy="766.8" r="4.1" fill="#18a547"/>
<circle cx="1662.44" cy="835.5" r="4.1" fill="#3c9da8"/>
<circle cx="1670.34" cy="829.2" r="4.1" fill="#3c9da8"/>
<circle cx="1678.24" cy="832.3" r="4.1" fill="#3c9da8"/>
<circle cx="1698.75" cy="816.6" r="4.1" fill="#1d5b5b"/>
<circle cx="1698.75" cy="831.7" r="4.1" fill="#1d5b5b"/>
<circle cx="1714.55" cy="824.4" r="4.1" fill="#1d5b5b"/>
<circle cx="1735.06" cy="834.8" r="4.1" fill="#e84e1b"/>
<circle cx="1742.96" cy="832.3" r="4.1" fill="#e84e1b"/>
<circle cx="1750.86" cy="834.5" r="4.1" fill="#e84e1b"/>
<circle cx="1779.27" cy="759.2" r="4.1" fill="#9b2a24"/>
<circle cx="1779.27" cy="775" r="4.1" fill="#9b2a24"/>
<circle cx="1779.27" cy="823.5" r="4.1" fill="#9b2a24"/>
<circle cx="103.8" cy="1183.4" r="4.3" fill="#000"/>
<circle cx="103.8" cy="1192.4" r="4.3" fill="#000"/>
<circle cx="103.8" cy="1209.7" r="4.3" fill="#000"/>
<circle cx="96.1" cy="1229.4" r="4.3" fill="#000"/>
<circle cx="111.1" cy="1230" r="4.3" fill="#000"/>
<circle cx="103.8" cy="1226" r="4.3" fill="#000"/>
<circle cx="100.7" cy="1236.5" r="4.3" fill="#000"/>
<circle cx="107.9" cy="1236.5" r="4.3" fill="#000"/>
<circle cx="103.8" cy="1246.7" r="4.3" fill="#000"/>
<circle cx="138.4" cy="1082.9" r="4.3" fill="#000"/>
<circle cx="138.4" cy="1104.8" r="4.3" fill="#000"/>
<circle cx="130.8" cy="1127.5" r="4.3" fill="#000"/>
<circle cx="146.1" cy="1133.4" r="4.3" fill="#000"/>
<circle cx="130.8" cy="1159.9" r="4.3" fill="#000"/>
<circle cx="146.1" cy="1167.6" r="4.3" fill="#000"/>
<circle cx="138.4" cy="1182.9" r="4.3" fill="#000"/>
<circle cx="138.4" cy="1196.2" r="4.3" fill="#000"/>
<circle cx="138.4" cy="1211" r="4.3" fill="#000"/>
<circle cx="173.1" cy="1211.2" r="4.3" fill="#000"/>
<circle cx="173.1" cy="1223.7" r="4.3" fill="#000"/>
<circle cx="181" cy="1230.6" r="4.3" fill="#000"/>
<circle cx="165.2" cy="1237" r="4.3" fill="#000"/>
<circle cx="181" cy="1239" r="4.3" fill="#000"/>
<circle cx="173.1" cy="1245.4" r="4.3" fill="#000"/>
<circle cx="173.1" cy="1262" r="4.3" fill="#000"/>
<circle cx="199.9" cy="1177.3" r="4.3" fill="#000"/>
<circle cx="209.9" cy="1180.9" r="4.3" fill="#000"/>
<circle cx="215.5" cy="1183.4" r="4.3" fill="#000"/>
<circle cx="204.8" cy="1185" r="4.3" fill="#000"/>
<circle cx="207.8" cy="1198.2" r="4.3" fill="#000"/>
<circle cx="207.8" cy="1223.7" r="4.3" fill="#000"/>
<circle cx="207.8" cy="1265.1" r="4.3" fill="#000"/>
<circle cx="610.8" cy="1195.8" r="3.5" fill="none" stroke="#000000" stroke-width="2.3"/>
<circle cx="610.8" cy="1212.8" r="3.5" fill="none" stroke="#000000" stroke-width="2.3"/>
<circle cx="610.8" cy="1236.1" r="3.5" fill="none" stroke="#000000" stroke-width="2.3"/>
<circle cx="640.5" cy="1150.2" r="4.1" fill="#f0981f"/>
<circle cx="656.6" cy="1156.1" r="4.1" fill="#f0981f"/>
<circle cx="648.9" cy="1167.9" r="4.1" fill="#f0981f"/>
<circle cx="703.7" cy="1027.8" r="3.5" fill="none" stroke="#000000" stroke-width="2.3"/>
<circle cx="711.8" cy="1027.2" r="3.5" fill="none" stroke="#000000" stroke-width="2.3"/>
<circle cx="720.2" cy="1027.8" r="3.5" fill="none" stroke="#000000" stroke-width="2.3"/>
<circle cx="741.9" cy="1013" r="4.1" fill="#f0981f"/>
<circle cx="749.6" cy="1012" r="4.1" fill="#f0981f"/>
<circle cx="757.4" cy="1013" r="4.1" fill="#f0981f"/>
<circle cx="804.8" cy="1019.8" r="3.5" fill="none" stroke="#000000" stroke-width="2.3"/>
<circle cx="812.8" cy="1018.5" r="3.5" fill="none" stroke="#000000" stroke-width="2.3"/>
<circle cx="820.9" cy="1019.2" r="3.5" fill="none" stroke="#000000" stroke-width="2.3"/>
<circle cx="842.6" cy="1013" r="4.1" fill="#f0981f"/>
<circle cx="850.9" cy="1012" r="4.1" fill="#f0981f"/>
<circle cx="858.7" cy="1012.7" r="4.1" fill="#f0981f"/>
<text x="0.1" y="33" font-size="44" text-anchor="start" font-weight="bold">a</text>
<text transform="translate(78.7 78.6) scale(0.9550 1)" font-size="28.8" text-anchor="end">200</text>
<text transform="translate(78.7 152.3) scale(0.9550 1)" font-size="28.8" text-anchor="end">150</text>
<text transform="translate(78.7 226) scale(0.9550 1)" font-size="28.8" text-anchor="end">100</text>
<text transform="translate(78.7 299.7) scale(0.9550 1)" font-size="28.8" text-anchor="end">50</text>
<text transform="translate(78.7 373.3) scale(0.9550 1)" font-size="28.8" text-anchor="end">0</text>
<text transform="translate(135 393.7) scale(0.9550 1)" font-size="28.8" text-anchor="middle">0.5</text>
<text transform="translate(244.5 393.7) scale(0.9550 1)" font-size="28.8" text-anchor="middle">1</text>
<text transform="translate(352 393.7) scale(0.9550 1)" font-size="28.8" text-anchor="middle">2</text>
<text transform="translate(459.5 393.7) scale(0.9550 1)" font-size="28.8" text-anchor="middle">4</text>
<text transform="translate(567 393.7) scale(0.9550 1)" font-size="28.8" text-anchor="middle">8</text>
<text transform="translate(217.82 425.7) scale(0.9534 1)" font-size="28.5">Time of stimulation (h)</text>
<text transform="translate(24.3 384.5) rotate(-90) scale(0.9509 1)" font-size="28.5">CCL4 concentration (pg/ml)</text>
<text x="480.8" y="72.8" font-size="18.2" text-anchor="middle" textLength="52.6" lengthAdjust="spacingAndGlyphs">0.0001</text>
<line x1="462.7" y1="74.2" x2="500.7" y2="74.2" stroke="#000" stroke-width="1.7" stroke-linecap="butt"/>
<text x="589.5" y="72.8" font-size="18.2" text-anchor="middle" textLength="53.6" lengthAdjust="spacingAndGlyphs">0.0012</text>
<line x1="570.7" y1="74.2" x2="608.8" y2="74.2" stroke="#000" stroke-width="1.7" stroke-linecap="butt"/>
<text transform="translate(707.1 82.5) scale(0.9150 1)" font-size="30" text-anchor="end">180</text>
<text transform="translate(707.1 156.3) scale(0.9150 1)" font-size="30" text-anchor="end">135</text>
<text transform="translate(707.1 230.1) scale(0.9150 1)" font-size="30" text-anchor="end">90</text>
<text transform="translate(707.1 303.5) scale(0.9150 1)" font-size="30" text-anchor="end">45</text>
<text transform="translate(707.1 377.1) scale(0.9150 1)" font-size="30" text-anchor="end">0</text>
<text transform="translate(762.5 397.6) scale(0.9550 1)" font-size="28.8" text-anchor="middle">0.5</text>
<text transform="translate(872.2 397.6) scale(0.9550 1)" font-size="28.8" text-anchor="middle">1</text>
<text transform="translate(979.9 397.6) scale(0.9550 1)" font-size="28.8" text-anchor="middle">2</text>
<text transform="translate(1087.6 397.6) scale(0.9550 1)" font-size="28.8" text-anchor="middle">4</text>
<text transform="translate(1195.3 397.6) scale(0.9550 1)" font-size="28.8" text-anchor="middle">8</text>
<text transform="translate(868.87 426.3) scale(0.9539 1)" font-size="28.5">Time of stimulation (h)</text>
<text transform="translate(652.9 390.46) rotate(-90) scale(0.9506 1)" font-size="28.5">TNF-α concentration (pg/ml)</text>
<text x="1109.4" y="72.8" font-size="18.2" text-anchor="middle" textLength="54.2" lengthAdjust="spacingAndGlyphs">0.0005</text>
<line x1="1089.9" y1="74.2" x2="1128.4" y2="74.2" stroke="#000" stroke-width="1.7" stroke-linecap="butt"/>
<text x="1215.9" y="72.8" font-size="18.2" text-anchor="middle" textLength="62.7" lengthAdjust="spacingAndGlyphs">&lt;0.0001</text>
<line x1="1197.5" y1="74.2" x2="1236" y2="74.2" stroke="#000" stroke-width="1.7" stroke-linecap="butt"/>
<text transform="translate(1334.8 81) scale(0.9550 1)" font-size="28.8" text-anchor="end">600</text>
<text transform="translate(1334.8 154.7) scale(0.9550 1)" font-size="28.8" text-anchor="end">450</text>
<text transform="translate(1334.8 228.3) scale(0.9550 1)" font-size="28.8" text-anchor="end">300</text>
<text transform="translate(1334.8 301.6) scale(0.9550 1)" font-size="28.8" text-anchor="end">150</text>
<text transform="translate(1334.8 375.5) scale(0.9550 1)" font-size="28.8" text-anchor="end">0</text>
<text transform="translate(1390 395.5) scale(0.9550 1)" font-size="28.8" text-anchor="middle">0.5</text>
<text transform="translate(1499.7 395.5) scale(0.9550 1)" font-size="28.8" text-anchor="middle">1</text>
<text transform="translate(1607.4 395.5) scale(0.9550 1)" font-size="28.8" text-anchor="middle">2</text>
<text transform="translate(1715.1 395.5) scale(0.9550 1)" font-size="28.8" text-anchor="middle">4</text>
<text transform="translate(1822.8 395.5) scale(0.9550 1)" font-size="28.8" text-anchor="middle">8</text>
<text transform="translate(1473.39 425.7) scale(0.9529 1)" font-size="28.5">Time of stimulation (h)</text>
<text transform="translate(1280.2 385.2) rotate(-90) scale(0.9524 1)" font-size="28.5">CCL5 concentration (pg/ml)</text>
<text x="1844.3" y="72.8" font-size="18.2" text-anchor="middle" textLength="56" lengthAdjust="spacingAndGlyphs">0.0262</text>
<line x1="1824.5" y1="74.4" x2="1863.9" y2="74.4" stroke="#000" stroke-width="1.9" stroke-linecap="butt"/>
<rect x="1887.4" y="1.8" width="19.4" height="19.4" fill="#ffffff" stroke="#000000" stroke-width="2"/>
<text transform="translate(1927.34 19.7) scale(0.9878 1)" font-size="27.8">Unstimulated</text>
<rect x="1887.4" y="40.6" width="19.4" height="19.4" fill="#d0e2f5" stroke="#6d9bcd" stroke-width="2"/>
<text transform="translate(1928.14 58.9) scale(0.9882 1)" font-size="27.8">CD40 Ab</text>
<rect x="1887.4" y="79.4" width="19.4" height="19.4" fill="#fddfb8" stroke="#ea972a" stroke-width="2"/>
<text transform="translate(1927.9 97.5) scale(0.9921 1)" font-size="27.8">IFN-αA</text>
<rect x="1887.4" y="118.2" width="19.4" height="19.4" fill="#d8c5f0" stroke="#5a2a9d" stroke-width="2"/>
<text transform="translate(1927.96 136) scale(0.9907 1)" font-size="27.8">IFN-αA + CD40 Ab</text>
<text x="1.4" y="507.7" font-size="44" text-anchor="start" font-weight="bold">b</text>
<text transform="translate(73.6 547.9) scale(0.9550 1)" font-size="28.8" text-anchor="end">4</text>
<text transform="translate(73.6 621.4) scale(0.9550 1)" font-size="28.8" text-anchor="end">3</text>
<text transform="translate(73.6 694.8) scale(0.9550 1)" font-size="28.8" text-anchor="end">2</text>
<text transform="translate(73.6 768.4) scale(0.9550 1)" font-size="28.8" text-anchor="end">1</text>
<text transform="translate(73.6 841.6) scale(0.9550 1)" font-size="28.8" text-anchor="end">0</text>
<text transform="translate(20 867.82) rotate(-90) scale(0.9484 1)" font-size="28.5"><tspan font-style="italic">Il15</tspan> relative expression (×10)</text>
<text x="180.7" y="543.8" font-size="16.9" text-anchor="middle" textLength="56.5" lengthAdjust="spacingAndGlyphs">&lt;0.0001</text>
<line x1="110" y1="545" x2="251.5" y2="545" stroke="#000" stroke-width="1.5" stroke-linecap="butt"/>
<text x="142.3" y="559.8" font-size="16.9" text-anchor="middle" textLength="48.3" lengthAdjust="spacingAndGlyphs">0.0160</text>
<line x1="110" y1="561" x2="178.3" y2="561" stroke="#000" stroke-width="1.5" stroke-linecap="butt"/>
<text x="198.6" y="559.8" font-size="16.9" text-anchor="middle" textLength="48.3" lengthAdjust="spacingAndGlyphs">0.0152</text>
<line x1="181.2" y1="561" x2="216.5" y2="561" stroke="#000" stroke-width="1.5" stroke-linecap="butt"/>
<text x="269.7" y="559.8" font-size="16.9" text-anchor="middle" textLength="48.6" lengthAdjust="spacingAndGlyphs">0.0003</text>
<line x1="252.4" y1="561" x2="287.4" y2="561" stroke="#000" stroke-width="1.5" stroke-linecap="butt"/>
<text transform="translate(428.6 548.1) scale(0.9550 1)" font-size="28.8" text-anchor="end">4</text>
<text transform="translate(428.6 621.5) scale(0.9550 1)" font-size="28.8" text-anchor="end">3</text>
<text transform="translate(428.6 694.9) scale(0.9550 1)" font-size="28.8" text-anchor="end">2</text>
<text transform="translate(428.6 768.5) scale(0.9550 1)" font-size="28.8" text-anchor="end">1</text>
<text transform="translate(428.6 842) scale(0.9550 1)" font-size="28.8" text-anchor="end">0</text>
<text transform="translate(373.2 852.5) rotate(-90) scale(0.9462 1)" font-size="28.5"><tspan font-style="italic">Cxcl16</tspan> relative expression</text>
<text x="552.6" y="544.2" font-size="16.9" text-anchor="middle" textLength="49.3" lengthAdjust="spacingAndGlyphs">0.0008</text>
<line x1="464.2" y1="546" x2="641.6" y2="546" stroke="#000" stroke-width="1.5" stroke-linecap="butt"/>
<text x="516.3" y="560" font-size="16.9" text-anchor="middle" textLength="49.3" lengthAdjust="spacingAndGlyphs">0.0003</text>
<line x1="464.2" y1="561.6" x2="570.7" y2="561.6" stroke="#000" stroke-width="1.5" stroke-linecap="butt"/>
<rect x="667.6" y="475" width="19.4" height="19.4" fill="#ffffff" stroke="#000000" stroke-width="2"/>
<text transform="translate(707.57 494) scale(0.9705 1)" font-size="27.8">Unstimulated</text>
<rect x="667.6" y="513.75" width="19.4" height="19.4" fill="#d3e3f3" stroke="#5f90d0" stroke-width="2"/>
<text transform="translate(707.85 532.8) scale(1.0023 1)" font-size="27.8">CD40 Ab</text>
<rect x="667.6" y="552.5" width="19.4" height="19.4" fill="#fbcb8b" stroke="#ee9a28" stroke-width="2"/>
<text transform="translate(707.81 571.6) scale(0.9835 1)" font-size="27.8">IFN-αA</text>
<rect x="667.6" y="591.25" width="19.4" height="19.4" fill="#b896db" stroke="#5a2b9b" stroke-width="2"/>
<text transform="translate(707.82 610.5) scale(0.9907 1)" font-size="27.8">IFN-αA + CD40 Ab</text>
<rect x="667.6" y="630" width="19.4" height="19.4" fill="#bee08a" stroke="#7cb928" stroke-width="2"/>
<text transform="translate(707.76 649) scale(0.9607 1)" font-size="27.8">IFN-β</text>
<rect x="667.6" y="668.75" width="19.4" height="19.4" fill="#9fd3d6" stroke="#2e8e96" stroke-width="2"/>
<text transform="translate(707.79 687.8) scale(0.9854 1)" font-size="27.8">IFN-β + CD40 Ab</text>
<text x="992.6" y="508" font-size="44" text-anchor="start" font-weight="bold">c</text>
<text transform="translate(1066.3 548.2) scale(0.9550 1)" font-size="28.8" text-anchor="end">5</text>
<text transform="translate(1066.3 607.1) scale(0.9550 1)" font-size="28.8" text-anchor="end">4</text>
<text transform="translate(1066.3 666) scale(0.9550 1)" font-size="28.8" text-anchor="end">3</text>
<text transform="translate(1066.3 724.9) scale(0.9550 1)" font-size="28.8" text-anchor="end">2</text>
<text transform="translate(1066.3 783.8) scale(0.9550 1)" font-size="28.8" text-anchor="end">1</text>
<text transform="translate(1066.3 842.6) scale(0.9550 1)" font-size="28.8" text-anchor="end">0</text>
<text transform="translate(1013.9 867.33) rotate(-90) scale(0.9483 1)" font-size="28.5"><tspan font-style="italic">Tnf</tspan> relative expression(×10<tspan font-size="16.5" dy="-8.8">3</tspan><tspan dy="8.8">)</tspan></text>
<text x="1151.7" y="543.6" font-size="17" text-anchor="middle" textLength="48" lengthAdjust="spacingAndGlyphs">0.0002</text>
<line x1="1097.5" y1="544.3" x2="1206.2" y2="544.3" stroke="#000" stroke-width="1.3" stroke-linecap="butt"/>
<text x="1188" y="559.3" font-size="17" text-anchor="middle" textLength="48.1" lengthAdjust="spacingAndGlyphs">0.0012</text>
<line x1="1170.5" y1="560.7" x2="1206.2" y2="560.7" stroke="#000" stroke-width="1.3" stroke-linecap="butt"/>
<text transform="translate(1493.2 548.4) scale(0.9550 1)" font-size="28.8" text-anchor="end">1.5</text>
<text transform="translate(1493.2 646.4) scale(0.9550 1)" font-size="28.8" text-anchor="end">1.0</text>
<text transform="translate(1493.2 744.3) scale(0.9550 1)" font-size="28.8" text-anchor="end">0.5</text>
<text transform="translate(1493.2 842.3) scale(0.9550 1)" font-size="28.8" text-anchor="end">0</text>
<text transform="translate(1441.6 885.19) rotate(-90) scale(0.9480 1)" font-size="28.5"><tspan font-style="italic">Ccl4</tspan> relative expression (×10<tspan font-size="16.5" dy="-8.8">4</tspan><tspan dy="8.8">)</tspan></text>
<text x="1577.7" y="543.6" font-size="17" text-anchor="middle" textLength="49.2" lengthAdjust="spacingAndGlyphs">0.0008</text>
<line x1="1523.5" y1="544.7" x2="1632.2" y2="544.7" stroke="#000" stroke-width="1.3" stroke-linecap="butt"/>
<rect x="1810.1" y="475" width="19.4" height="19.4" fill="#ffffff" stroke="#000000" stroke-width="2"/>
<text transform="translate(1849.59 493.8) scale(0.9773 1)" font-size="27.8">Unstimulated</text>
<rect x="1810.1" y="513.75" width="19.4" height="19.4" fill="#d5e2f3" stroke="#7b9fd6" stroke-width="2"/>
<text transform="translate(1850.01 532.8) scale(1.0020 1)" font-size="27.8">CD40 Ab</text>
<rect x="1810.1" y="552.5" width="19.4" height="19.4" fill="#d9edb8" stroke="#8dc420" stroke-width="2"/>
<text transform="translate(1850.13 571.2) scale(1.0023 1)" font-size="27.8">CpG</text>
<rect x="1810.1" y="591.25" width="19.4" height="19.4" fill="#bfe3c5" stroke="#1fa04a" stroke-width="2"/>
<text transform="translate(1849.54 610.2) scale(0.9941 1)" font-size="27.8">CpG + CD40 Ab</text>
<rect x="1810.1" y="630" width="19.4" height="19.4" fill="#e9f1ec" stroke="#45a0a6" stroke-width="2"/>
<text transform="translate(1849.5 648.8) scale(0.9998 1)" font-size="27.8">LPS</text>
<rect x="1810.1" y="668.75" width="19.4" height="19.4" fill="#8fa9a9" stroke="#2a5f5e" stroke-width="2"/>
<text transform="translate(1849.5 687.8) scale(0.9968 1)" font-size="27.8">LPS + CD40 Ab</text>
<rect x="1810.1" y="707.5" width="19.4" height="19.4" fill="#f9cbc4" stroke="#e0512b" stroke-width="2"/>
<text transform="translate(1850.2 726.2) scale(0.9840 1)" font-size="27.8">p(I:C)</text>
<rect x="1810.1" y="746.25" width="19.4" height="19.4" fill="#e2c5c2" stroke="#8e2f28" stroke-width="2"/>
<text transform="translate(1850.2 765.2) scale(0.9893 1)" font-size="27.8">p(I:C) + CD40 Ab</text>
<text x="1.6" y="972.2" font-size="44" text-anchor="start" font-weight="bold">d</text>
<text transform="translate(79.9 1014.5) scale(0.9550 1)" font-size="28.8" text-anchor="end">100</text>
<text transform="translate(79.9 1073.5) scale(0.9550 1)" font-size="28.8" text-anchor="end">80</text>
<text transform="translate(79.9 1132.5) scale(0.9550 1)" font-size="28.8" text-anchor="end">60</text>
<text transform="translate(79.9 1191.6) scale(0.9550 1)" font-size="28.8" text-anchor="end">40</text>
<text transform="translate(79.9 1250.6) scale(0.9550 1)" font-size="28.8" text-anchor="end">20</text>
<text transform="translate(79.9 1309.6) scale(0.9550 1)" font-size="28.8" text-anchor="end">0</text>
<text transform="translate(24.8 1295.92) rotate(-90) scale(0.9609 1)" font-size="28.5">MHC-II<tspan font-size="16.5" dy="-8.8">hi</tspan><tspan dy="8.8"> CD8</tspan><tspan font-size="16.5" dy="-8.8">+</tspan><tspan dy="8.8"> DCs (%)</tspan></text>
<text x="121.3" y="1005.6" font-size="18.4" text-anchor="middle" textLength="48.4" lengthAdjust="spacingAndGlyphs">0.0008</text>
<line x1="104.3" y1="1007.1" x2="138.4" y2="1007.1" stroke="#000" stroke-width="1.5" stroke-linecap="butt"/>
<text x="190.6" y="1005.6" font-size="17.9" text-anchor="middle">ns</text>
<line x1="173.3" y1="1007.1" x2="207.8" y2="1007.1" stroke="#000" stroke-width="1.5" stroke-linecap="butt"/>
<rect x="236.4" y="939.4" width="19.2" height="19.2" fill="#fff" stroke="#111" stroke-width="2.4"/>
<text transform="translate(277.08 958.8) scale(0.9768 1)" font-size="27.8">WT naïve</text>
<rect x="236.4" y="978.1" width="19.2" height="19.2" fill="#cfcdcd" stroke="#111" stroke-width="2.4"/>
<text transform="translate(277.14 997.5) scale(0.9702 1)" font-size="27.8">WT HSV</text>
<rect x="236.4" y="1016.8" width="19.2" height="19.2" fill="#959191" stroke="#111" stroke-width="2.4"/>
<text transform="translate(276.8 1036.2) scale(0.9980 1)" font-size="27.8" text-anchor="start" font-style="italic">Ifnar2</text>
<text transform="translate(347.9 1027) scale(0.9600 1)" font-size="16.8" text-anchor="start" font-style="italic">-/-</text>
<text transform="translate(368.89 1036.2) scale(1.0235 1)" font-size="27.8">naïve</text>
<rect x="236.4" y="1055.5" width="19.2" height="19.2" fill="#403e3d" stroke="#111" stroke-width="2.4"/>
<text transform="translate(276.8 1074.9) scale(0.9980 1)" font-size="27.8" text-anchor="start" font-style="italic">Ifnar2</text>
<text transform="translate(347.9 1065.7) scale(0.9600 1)" font-size="16.8" text-anchor="start" font-style="italic">-/-</text>
<text transform="translate(369.33 1074.9) scale(1.0051 1)" font-size="27.8">HSV</text>
<text x="497.7" y="972.2" font-size="44" text-anchor="start" font-weight="bold">e</text>
<text transform="translate(576.6 1014.1) scale(0.9550 1)" font-size="28.8" text-anchor="end">100</text>
<text transform="translate(576.6 1161.3) scale(0.9550 1)" font-size="28.8" text-anchor="end">50</text>
<text transform="translate(576.6 1308.5) scale(0.9550 1)" font-size="28.8" text-anchor="end">0</text>
<text transform="translate(629.7 1332.6) scale(0.9550 1)" font-size="28.8" text-anchor="middle">2 h</text>
<text transform="translate(730.7 1332.6) scale(0.9550 1)" font-size="28.8" text-anchor="middle">4 h</text>
<text transform="translate(831.7 1332.6) scale(0.9550 1)" font-size="28.8" text-anchor="middle">8 h</text>
<text transform="translate(524 1281.44) rotate(-90) scale(0.9560 1)" font-size="28.5">CD40<tspan font-size="16.5" dy="-8.8">+</tspan><tspan dy="8.8"> BMDC1 (%)</tspan></text>
<text x="629.8" y="1002.3" font-size="17.9" text-anchor="middle">ns</text>
<line x1="610.2" y1="1004.2" x2="648.9" y2="1004.2" stroke="#000" stroke-width="1.5" stroke-linecap="butt"/>
<text x="729.5" y="1002.3" font-size="17.9" text-anchor="middle">ns</text>
<line x1="710.9" y1="1004.2" x2="748" y2="1004.2" stroke="#000" stroke-width="1.5" stroke-linecap="butt"/>
<text x="832.2" y="1002.3" font-size="17.9" text-anchor="middle">ns</text>
<line x1="813.1" y1="1004.2" x2="850.9" y2="1004.2" stroke="#000" stroke-width="1.5" stroke-linecap="butt"/>
<rect x="878.4" y="939.1" width="19.8" height="19.8" fill="#ffffff" stroke="#000000" stroke-width="2"/>
<text transform="translate(918.67 958) scale(0.9692 1)" font-size="27.8">Unstimulated</text>
<rect x="878.4" y="977.4" width="19.8" height="19.8" fill="#fde2bd" stroke="#e9a43a" stroke-width="2"/>
<text transform="translate(918.81 997.2) scale(0.9835 1)" font-size="27.8">IFN-αA</text>
</svg>
</body></html>
